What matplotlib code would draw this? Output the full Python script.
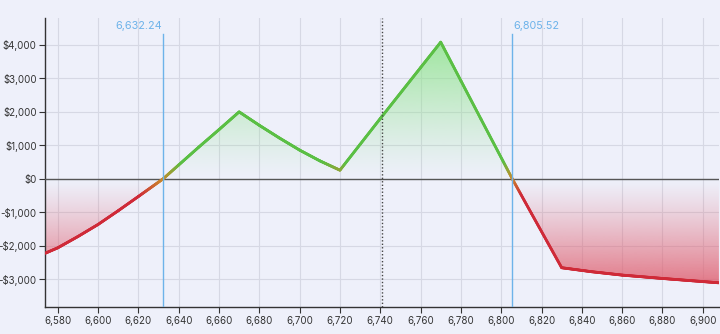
import numpy as np
import matplotlib
matplotlib.use("Agg")
import matplotlib.pyplot as plt
from matplotlib.collections import LineCollection
from matplotlib.colors import to_rgb
from matplotlib.ticker import FuncFormatter

plt.rcParams["font.family"] = ["Inter", "DejaVu Sans"]

# payoff curve
price = [6573.7, 6580, 6590, 6600, 6610, 6620, 6632.24, 6640, 6650, 6660, 6670,
         6680, 6690, 6700, 6710, 6720, 6730, 6740, 6750, 6760, 6770,
         6780, 6790, 6805.52, 6815, 6830, 6845, 6860, 6880, 6895, 6908]
pnl = [-2220, -2057, -1720, -1360, -950, -525, 0, 415, 950, 1470, 2000,
       1600, 1220, 860, 540, 260, 1030, 1800, 2560, 3320, 4080,
       2930, 1780, 0, -1030, -2650, -2770, -2870, -2970, -3040, -3100]

breakevens = [6632.24, 6805.52]
breakeven_labels = ["6,632.24", "6,805.52"]
current_price = 6741

x_ticks = list(range(6580, 6901, 20))
y_ticks = [-3000, -2000, -1000, 0, 1000, 2000, 3000, 4000]

BG = "#eef0fa"
GREEN = "#5abf44"
RED = "#cf2a38"
BLUE = "#6db3ea"

x = np.array(price)
y = np.array(pnl)

fig = plt.figure(figsize=(7.2, 3.34), dpi=100, facecolor=BG)
ax = fig.add_axes([0.0625, 0.081, 0.936, 0.865])
ax.set_facecolor(BG)

xlim = (6573.7, 6908)
ylim = (-3820, 4800)
ax.set_xlim(*xlim)
ax.set_ylim(*ylim)

# densify for smooth gradient line / fill
xs = np.linspace(xlim[0], xlim[1], 1200)
xs = np.unique(np.concatenate([xs, x]))
ys = np.interp(xs, x, y)

# gradient fills, transparent at zero
ymax = y.max()
ymin = y.min()
n = 256
green_img = np.zeros((n, 1, 4))
green_img[..., :3] = to_rgb("#8fe48c")
green_img[:, 0, 3] = np.linspace(0, 0.85, n) ** 1.2
im_g = ax.imshow(green_img, extent=[xlim[0], xlim[1], 0, ymax], origin="lower",
                 aspect="auto", zorder=1, interpolation="bilinear")
poly_g = ax.fill_between(xs, 0, np.clip(ys, 0, None), color="none", lw=0)
im_g.set_clip_path(poly_g.get_paths()[0], transform=ax.transData)

red_img = np.zeros((n, 1, 4))
red_img[..., :3] = to_rgb("#e06070")
red_img[:, 0, 3] = np.linspace(0.85, 0, n) ** 1.2
im_r = ax.imshow(red_img, extent=[xlim[0], xlim[1], ymin, 0], origin="lower",
                 aspect="auto", zorder=1, interpolation="bilinear")
poly_r = ax.fill_between(xs, np.clip(ys, None, 0), 0, color="none", lw=0)
im_r.set_clip_path(poly_r.get_paths()[0], transform=ax.transData)

# line coloured by value (red -> orange -> green around zero)
g = np.array(to_rgb(GREEN))
r = np.array(to_rgb(RED))
o = np.array(to_rgb("#c98a2a"))
mid = (xs[:-1] + xs[1:]) / 2
vals = np.interp(mid, xs, ys)
t = np.clip(vals / 500.0, -1, 1)
cols = []
for tv in t:
    if tv >= 0:
        cols.append(o + (g - o) * tv)
    else:
        cols.append(o + (r - o) * (-tv))
segs = np.stack([np.column_stack([xs[:-1], ys[:-1]]),
                 np.column_stack([xs[1:], ys[1:]])], axis=1)
lc = LineCollection(segs, colors=cols, linewidths=2.0, capstyle="round", zorder=4)
ax.add_collection(lc)

# zero line
ax.axhline(0, color="#555555", lw=1.0, zorder=3)

# breakeven markers
top_frac = (4310 - ylim[0]) / (ylim[1] - ylim[0])
for be, lab, side in zip(breakevens, breakeven_labels, ["right", "left"]):
    ax.axvline(be, ymin=0, ymax=top_frac, color=BLUE, lw=1.0, zorder=5)
    ax.text(be + (0.3 if side == "left" else -0.3), 4420, lab, color=BLUE,
            fontsize=7.8, ha=side, va="bottom", zorder=6)

# current price
ax.axvline(current_price, color="#444444", lw=1.0, ls=(0, (1, 1.5)), zorder=5)

# axes styling
ax.set_xticks(x_ticks)
ax.set_yticks(y_ticks)
ax.xaxis.set_major_formatter(FuncFormatter(lambda v, p: f"{v:,.0f}"))
ax.yaxis.set_major_formatter(
    FuncFormatter(lambda v, p: f"-${abs(v):,.0f}" if v < 0 else f"${v:,.0f}"))
ax.grid(True, color="#d6d8e4", lw=0.8, zorder=0)
ax.set_axisbelow(True)
for s in ["top", "right"]:
    ax.spines[s].set_visible(False)
for s in ["left", "bottom"]:
    ax.spines[s].set_color("#333333")
    ax.spines[s].set_linewidth(1.0)
ax.tick_params(axis="both", labelsize=7.0, colors="#333333", length=4, width=0.8,
               pad=2.5)
ax.tick_params(axis="y", pad=2)

fig.savefig("out.png", dpi=100, facecolor=BG)
